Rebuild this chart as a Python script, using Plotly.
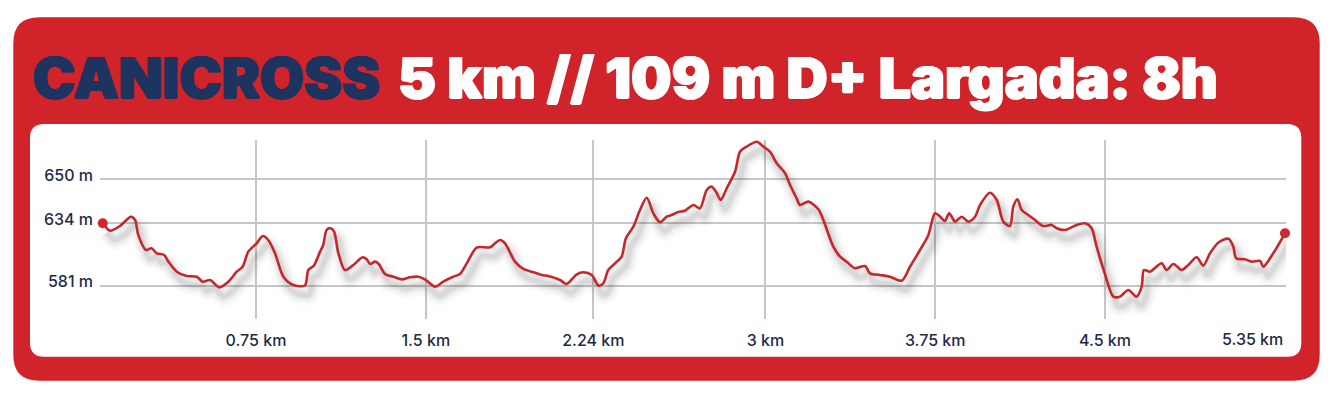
import plotly.graph_objects as go

# ---------------- data ----------------
DIST_KM = [0.073, 0.105, 0.149, 0.198, 0.216, 0.230, 0.264, 0.289, 0.311, 0.344,
           0.363, 0.400, 0.444, 0.488, 0.515, 0.547, 0.588, 0.628, 0.665, 0.691,
           0.716, 0.753, 0.780, 0.804, 0.834, 0.871, 0.915, 0.966, 0.981, 1.006,
           1.033, 1.047, 1.062, 1.080, 1.095, 1.114, 1.143, 1.180, 1.221, 1.239,
           1.254, 1.276, 1.293, 1.320, 1.356, 1.394, 1.430, 1.467, 1.496, 1.541,
           1.577, 1.621, 1.651, 1.681, 1.725, 1.784, 1.806, 1.828, 1.850, 1.894,
           1.931, 1.975, 2.012, 2.041, 2.093, 2.122, 2.167, 2.196, 2.233, 2.262,
           2.284, 2.306, 2.336, 2.365, 2.384, 2.417, 2.446, 2.476, 2.505, 2.535,
           2.564, 2.586, 2.615, 2.645, 2.682, 2.711, 2.741, 2.763, 2.782, 2.803,
           2.829, 2.866, 2.888, 2.917, 2.962, 2.991, 3.020, 3.050, 3.087, 3.109,
           3.138, 3.153, 3.190, 3.234, 3.256, 3.300, 3.330, 3.359, 3.396, 3.440,
           3.462, 3.506, 3.550, 3.602, 3.639, 3.683, 3.720, 3.749, 3.771, 3.793,
           3.812, 3.838, 3.867, 3.896, 3.926, 3.948, 3.992, 4.022, 4.051, 4.080,
           4.095, 4.113, 4.132, 4.161, 4.191, 4.227, 4.265, 4.287, 4.323, 4.375,
           4.412, 4.441, 4.463, 4.499, 4.537, 4.566, 4.603, 4.640, 4.662, 4.672,
           4.699, 4.750, 4.772, 4.802, 4.839, 4.868, 4.905, 4.934, 4.964, 5.000,
           5.045, 5.067, 5.079, 5.118, 5.148, 5.185, 5.199, 5.243, 5.295]

ELEV_M = [634.0, 627.7, 631.7, 639.6, 636.8, 624.1, 611.3, 612.8, 608.5, 607.1,
          601.4, 592.9, 589.2, 588.6, 584.4, 585.8, 579.6, 584.4, 592.9, 597.1,
          609.9, 617.0, 623.2, 619.8, 608.5, 588.6, 581.6, 581.2, 594.3, 598.2,
          609.9, 615.6, 628.3, 629.8, 626.9, 608.5, 594.3, 598.6, 605.1, 603.4,
          599.4, 601.4, 599.2, 590.9, 588.6, 586.4, 588.1, 588.6, 586.4, 580.1,
          584.4, 588.6, 590.9, 600.0, 613.3, 613.6, 617.0, 619.8, 617.0, 601.4,
          595.2, 592.4, 590.1, 589.2, 585.8, 582.4, 590.7, 592.4, 590.1, 581.2,
          583.0, 594.3, 600.0, 605.6, 621.3, 631.1, 645.3, 655.7, 642.5, 634.9,
          639.6, 641.0, 643.6, 644.7, 649.5, 646.7, 662.3, 665.1, 660.8, 653.8,
          663.7, 677.8, 694.8, 699.1, 703.3, 699.1, 694.8, 685.0, 676.5, 666.5,
          655.2, 649.5, 652.4, 645.9, 636.8, 614.1, 605.6, 601.4, 595.8, 597.7,
          591.5, 590.1, 588.6, 585.2, 597.1, 611.3, 624.1, 642.5, 639.8, 636.0,
          642.5, 635.4, 639.6, 635.4, 639.6, 649.5, 660.0, 653.8, 635.4, 631.7,
          648.1, 654.4, 645.3, 641.0, 636.8, 631.7, 632.6, 629.8, 628.3, 632.6,
          634.0, 629.8, 614.1, 591.5, 571.7, 571.7, 577.3, 571.7, 580.1, 594.3,
          592.9, 600.0, 594.3, 599.4, 594.3, 598.6, 605.1, 598.0, 608.5, 617.5,
          620.9, 614.1, 604.3, 603.4, 601.4, 602.0, 597.1, 608.5, 625.5]

X_TICK_VALS = [0.75, 1.5, 2.24, 3.0, 3.75, 4.5]
X_TICK_TEXT = ["0.75 km", "1.5 km", "2.24 km", "3 km", "3.75 km", "4.5 km"]
X_END_LABEL = "5.35 km"
Y_TICK_VALS = [581, 634, 671.4]
Y_TICK_TEXT = ["581 m", "634 m", "650 m"]

TITLE_DARK = "CANICROSS"
TITLE_LIGHT = "5 km // 109 m D+ Largada: 8h"

# ---------------- style / layout ----------------
OFF = 8                      # page body margin
W, H = 1333 - OFF, 400 - OFF
RED = "#d1232a"
NAVY = "#1d3461"
LABEL = "#1f2a48"
LINE = "#c4282c"
GRID = "#c6c6c6"


def px(x):
    return (x - OFF) / W


def py(y):
    return 1 - (y - OFF) / H


def rrect(x0, y0, x1, y1, r):
    X0, X1 = px(x0), px(x1)
    Y0, Y1 = py(y0), py(y1)
    rx, ry = r / W, r / H
    return (f"M {X0+rx},{Y0} L {X1-rx},{Y0} Q {X1},{Y0} {X1},{Y0-ry} "
            f"L {X1},{Y1+ry} Q {X1},{Y1} {X1-rx},{Y1} "
            f"L {X0+rx},{Y1} Q {X0},{Y1} {X0},{Y1+ry} "
            f"L {X0},{Y0-ry} Q {X0},{Y0} {X0+rx},{Y0} Z")


def thick(c):
    return f"1px 0px 0px {c}, -1px 0px 0px {c}, 0px 0.7px 0px {c}, 0px -0.5px 0px {c}"


XR = [0.0610, 5.2995]
YR = [552.7, 704.75]
SHX = 0.02
SHY = 7.5

fig = go.Figure()

for wdt, alpha in [(20, 0.025), (14, 0.035), (9, 0.045), (5, 0.05)]:
    fig.add_trace(go.Scatter(
        x=DIST_KM, y=ELEV_M, mode="lines", xaxis="x", yaxis="y",
        line=dict(color=f"rgba(0,0,0,{alpha})", width=wdt, shape="spline", smoothing=0.8),
        hoverinfo="skip", showlegend=False))

fig.add_trace(go.Scatter(
    x=DIST_KM, y=ELEV_M, mode="lines", xaxis="x2", yaxis="y2",
    line=dict(color=LINE, width=2.6, shape="spline", smoothing=0.8),
    showlegend=False))

fig.add_trace(go.Scatter(
    x=[DIST_KM[0], DIST_KM[-1]], y=[ELEV_M[0], ELEV_M[-1]], mode="markers",
    xaxis="x2", yaxis="y2", cliponaxis=False,
    marker=dict(color="#d3262c", size=10), showlegend=False))

dom_x = [px(100), px(1286)]
dom_y = [py(319), py(140)]

TICKFONT = dict(family="Inter", size=16, color=LABEL, weight=500)

fig.update_layout(
    width=W, height=H,
    margin=dict(l=0, r=0, t=0, b=0),
    paper_bgcolor="white",
    plot_bgcolor="rgba(0,0,0,0)",
    xaxis=dict(domain=dom_x, range=[XR[0] - SHX, XR[1] - SHX], visible=False,
               fixedrange=True),
    yaxis=dict(domain=dom_y, range=[YR[0] + SHY, YR[1] + SHY], visible=False,
               fixedrange=True),
    xaxis2=dict(overlaying="x", anchor="y2", side="bottom", range=XR,
                tickmode="array", tickvals=X_TICK_VALS, ticktext=X_TICK_TEXT,
                showgrid=True, gridcolor=GRID, gridwidth=1.6,
                zeroline=False, showline=False, ticks="",
                ticklabelstandoff=10, tickfont=TICKFONT),
    yaxis2=dict(overlaying="y", anchor="x2", side="left", range=YR,
                tickmode="array", tickvals=Y_TICK_VALS, ticktext=Y_TICK_TEXT,
                showgrid=True, gridcolor=GRID, gridwidth=1.6,
                zeroline=False, showline=False, ticks="",
                ticklabelstandoff=6, ticklabelshift=-4, tickfont=TICKFONT),
    shapes=[
        dict(type="path", xref="paper", yref="paper", layer="below",
             path=rrect(13.3, 17.3, 1319.7, 380.7, 26),
             fillcolor=RED, line=dict(width=0)),
        dict(type="path", xref="paper", yref="paper", layer="below",
             path=rrect(30, 124, 1301.3, 356.7, 14),
             fillcolor="white", line=dict(width=0)),
    ],
    annotations=[
        dict(xref="paper", yref="paper", x=px(31), y=py(77.3),
             xanchor="left", yanchor="middle", showarrow=False,
             text=TITLE_DARK,
             font=dict(family="Inter", size=57, color=NAVY, weight=900,
                       shadow=thick(NAVY))),
        dict(xref="paper", yref="paper", x=px(396), y=py(77.3),
             xanchor="left", yanchor="middle", showarrow=False,
             text=TITLE_LIGHT,
             font=dict(family="Inter", size=57, color="white", weight=900,
                       shadow=thick("white"))),
        dict(xref="paper", yref="paper", x=px(1285), y=py(339),
             xanchor="right", yanchor="middle", showarrow=False,
             text=X_END_LABEL, font=TICKFONT),
    ],
)

fig.write_html("out.html")
